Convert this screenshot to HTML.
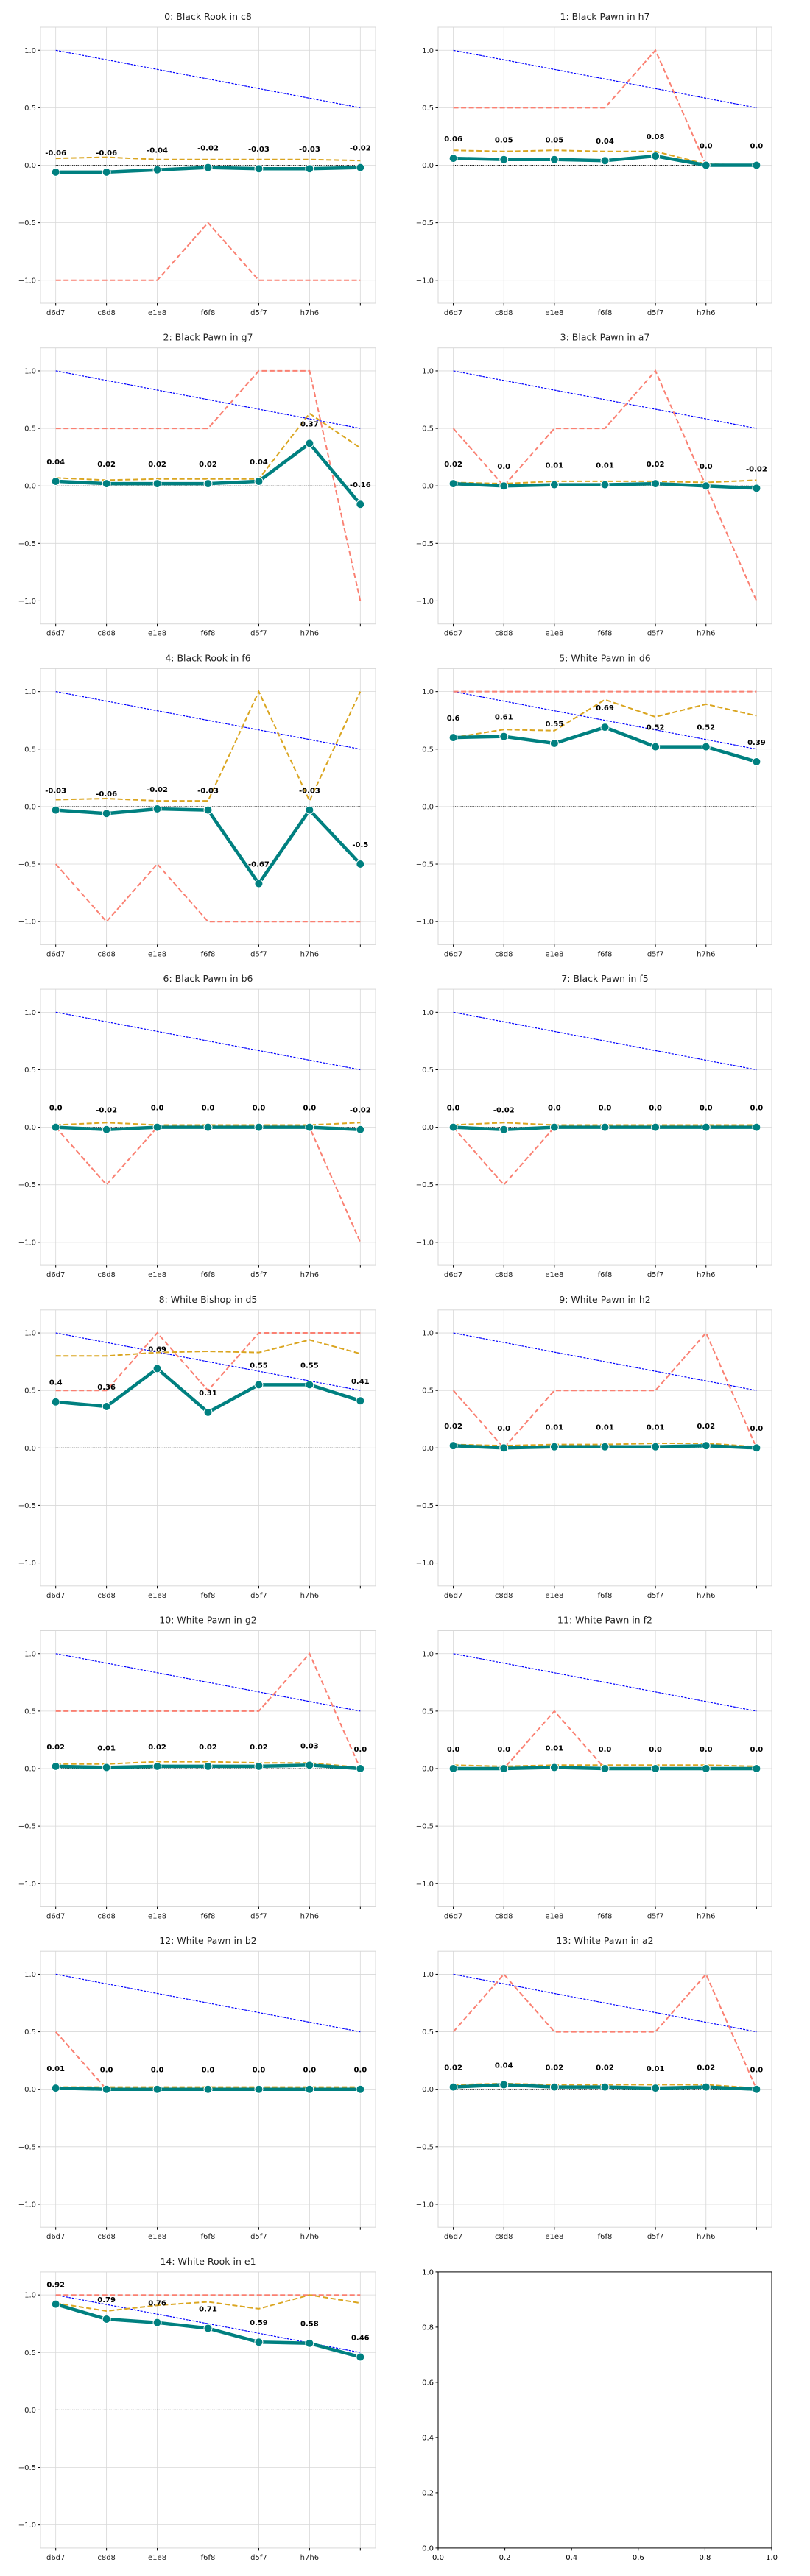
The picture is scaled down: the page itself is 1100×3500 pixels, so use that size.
<!DOCTYPE html>
<html><head><meta charset="utf-8"><style>
html,body{margin:0;padding:0;background:#fff;}
svg{display:block;font-family:"DejaVu Sans","Liberation Sans",sans-serif;}
</style></head><body>
<svg id="chart" width="1100" height="3500" viewBox="0 0 1100 3500" xmlns="http://www.w3.org/2000/svg"></svg>
<script>
const categories = ["d6d7","c8d8","e1e8","f6f8","d5f7","h7h6",""];
const titles = ["0: Black Rook in c8","1: Black Pawn in h7","2: Black Pawn in g7","3: Black Pawn in a7","4: Black Rook in f6","5: White Pawn in d6","6: Black Pawn in b6","7: Black Pawn in f5","8: White Bishop in d5","9: White Pawn in h2","10: White Pawn in g2","11: White Pawn in f2","12: White Pawn in b2","13: White Pawn in a2","14: White Rook in e1"];
const blueSeries = [1,0.917,0.833,0.75,0.667,0.583,0.5];
const tealSeries = [
[-0.06,-0.06,-0.04,-0.02,-0.03,-0.03,-0.02],
[0.06,0.05,0.05,0.04,0.08,0,0],
[0.04,0.02,0.02,0.02,0.04,0.37,-0.16],
[0.02,0,0.01,0.01,0.02,0,-0.02],
[-0.03,-0.06,-0.02,-0.03,-0.67,-0.03,-0.5],
[0.6,0.61,0.55,0.69,0.52,0.52,0.39],
[0,-0.02,0,0,0,0,-0.02],
[0,-0.02,0,0,0,0,0],
[0.4,0.36,0.69,0.31,0.55,0.55,0.41],
[0.02,0,0.01,0.01,0.01,0.02,0],
[0.02,0.01,0.02,0.02,0.02,0.03,0],
[0,0,0.01,0,0,0,0],
[0.01,0,0,0,0,0,0],
[0.02,0.04,0.02,0.02,0.01,0.02,0],
[0.92,0.79,0.76,0.71,0.59,0.58,0.46]];
const orangeSeries = [
[0.06,0.07,0.05,0.05,0.05,0.05,0.04],
[0.13,0.12,0.13,0.12,0.12,0.01,0],
[0.07,0.05,0.06,0.06,0.06,0.63,0.33],
[0.03,0.02,0.04,0.04,0.04,0.03,0.05],
[0.06,0.07,0.05,0.05,1,0.05,1],
[0.6,0.67,0.66,0.93,0.78,0.89,0.79],
[0.02,0.04,0.02,0.02,0.02,0.02,0.04],
[0.02,0.04,0.02,0.02,0.02,0.02,0.02],
[0.8,0.8,0.83,0.84,0.83,0.94,0.82],
[0.03,0.02,0.03,0.03,0.04,0.04,0.01],
[0.04,0.04,0.06,0.06,0.05,0.05,0.01],
[0.03,0.02,0.03,0.03,0.03,0.03,0.02],
[0.02,0.02,0.02,0.02,0.02,0.02,0.02],
[0.04,0.05,0.04,0.04,0.04,0.04,0.01],
[0.93,0.86,0.91,0.94,0.88,1.0,0.93]];
const salmonSeries = [
[-1,-1,-1,-0.5,-1,-1,-1],
[0.5,0.5,0.5,0.5,1,0,0],
[0.5,0.5,0.5,0.5,1,1,-1],
[0.5,0,0.5,0.5,1,0,-1],
[-0.5,-1,-0.5,-1,-1,-1,-1],
[1,1,1,1,1,1,1],
[0,-0.5,0,0,0,0,-1],
[0,-0.5,0,0,0,0,0],
[0.5,0.5,1,0.5,1,1,1],
[0.5,0,0.5,0.5,0.5,1,0],
[0.5,0.5,0.5,0.5,0.5,1,0],
[0,0,0.5,0,0,0,0],
[0.5,0,0,0,0,0,0],
[0.5,1,0.5,0.5,0.5,1,0],
[1,1,1,1,1,1,1]];
const yTicks = [-1.0,-0.5,0.0,0.5,1.0];
const emptyTicks = [0,0.2,0.4,0.6,0.8,1.0];

const NS="http://www.w3.org/2000/svg";
const svg=document.getElementById('chart');
function mk(tag,attrs,parent){const e=document.createElementNS(NS,tag);for(const k in attrs)e.setAttribute(k,attrs[k]);(parent||svg).appendChild(e);return e;}
const fmtTick=v=>(v<0?"\u2212":"")+Math.abs(v).toFixed(1);
const fmtVal=v=>v===0?"0.0":String(v);

const TOP0=37, PITCH=435.7, AH=375;
for(let i=0;i<16;i++){
  const row=Math.floor(i/2), col=i%2;
  const L = col===0?55:595, R = col===0?510:1048;
  const T = TOP0+row*PITCH, B=T+AH;
  const g=mk('g',{});
  if(i===15){
    
    
    mk('rect',{x:L,y:T,width:R-L,height:AH,fill:'none',stroke:'#000','stroke-width':1},g);
    emptyTicks.forEach(t=>{
      const x=L+t*(R-L), y=B-t*AH;
      mk('line',{x1:x,y1:B,x2:x,y2:B+3.5,stroke:'#000'},g);
      mk('line',{x1:L-3.5,y1:y,x2:L,y2:y,stroke:'#000'},g);
      const tx=mk('text',{x:x,y:B+16,'font-size':10,'text-anchor':'middle',fill:'#000'},g);tx.textContent=t.toFixed(1);
      const ty=mk('text',{x:L-6,y:y+3.5,'font-size':10,'text-anchor':'end',fill:'#000'},g);ty.textContent=t.toFixed(1);
    });
    continue;
  }
  
  
  const xs=k=>L+(k+0.3)*(R-L)/6.6;
  const ys=v=>T+(1.2-v)*AH/2.4;
  mk('rect',{x:L,y:T,width:R-L,height:AH,fill:'none',stroke:'#d8d8d8','stroke-width':1},g);
  categories.forEach((c,k)=>{
    const x=xs(k);
    mk('line',{x1:x,y1:T,x2:x,y2:B,stroke:'#d8d8d8','stroke-width':0.8},g);
    mk('line',{x1:x,y1:B,x2:x,y2:B+3.5,stroke:'#000'},g);
    const t=mk('text',{x:x,y:B+16,'font-size':10,'text-anchor':'middle',fill:'#222'},g);t.textContent=c;
    
    
  });
  yTicks.forEach(v=>{
    const y=ys(v);
    mk('line',{x1:L,y1:y,x2:R,y2:y,stroke:'#d8d8d8','stroke-width':0.8},g);
    mk('line',{x1:L-3.5,y1:y,x2:L,y2:y,stroke:'#000'},g);
    const t=mk('text',{x:L-6,y:y+3.5,'font-size':10,'text-anchor':'end',fill:'#222'},g);t.textContent=fmtTick(v);
    
    
  });
  const tt=mk('text',{x:(L+R)/2,y:T-10,'font-size':12.5,'text-anchor':'middle',fill:'#222'},g);tt.textContent=titles[i];
  
  
  const zl=mk('line',{x1:xs(0),y1:ys(0),x2:xs(6),y2:ys(0),stroke:'#000','stroke-width':1,'stroke-dasharray':'1,1.5'},g);
  
  
  const pts=arr=>arr.map((v,k)=>xs(k).toFixed(1)+','+ys(v).toFixed(1)).join(' ');
  const bl=mk('polyline',{points:pts(blueSeries),fill:'none',stroke:'#0000ff','stroke-width':1.2,'stroke-dasharray':'3,1.5'},g);
  
  
  const sl=mk('polyline',{points:pts(salmonSeries[i]),fill:'none',stroke:'#fa8072','stroke-width':2,'stroke-dasharray':'7,3.5'},g);
  
  
  const ol=mk('polyline',{points:pts(orangeSeries[i]),fill:'none',stroke:'#daa520','stroke-width':2,'stroke-dasharray':'7,3.5'},g);
  
  
  const tl=mk('polyline',{points:pts(tealSeries[i]),fill:'none',stroke:'#008080','stroke-width':4.5,'stroke-linejoin':'round'},g);
  
  
  tealSeries[i].forEach((v,k)=>{
    const c=mk('circle',{cx:xs(k),cy:ys(v),r:5.5,fill:'#008080',stroke:'#fff','stroke-width':1},g);
    
    
    const t=mk('text',{x:xs(k),y:ys(v+0.17)+3.5,'font-size':10,'font-weight':'bold','text-anchor':'middle',fill:'#000'},g);
    t.textContent=fmtVal(v);
    
    
  });
}
</script>
</body></html>
